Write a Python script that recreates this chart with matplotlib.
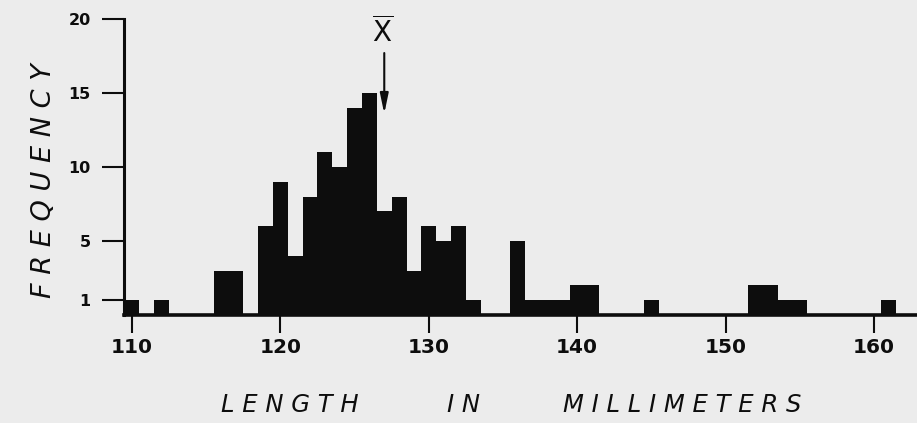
import matplotlib
matplotlib.use('Agg')
import matplotlib.pyplot as plt

# frequency of body length, 1 mm classes
lengths = [110, 112, 116, 117, 119, 120, 121, 122, 123, 124, 125, 126, 127,
           128, 129, 130, 131, 132, 133, 136, 137, 138, 139, 140, 141, 145,
           152, 153, 154, 155, 161]
counts = [1, 1, 3, 3, 6, 9, 4, 8, 11, 10, 14, 15, 7,
          8, 3, 6, 5, 6, 1, 5, 1, 1, 1, 2, 2, 1,
          2, 2, 1, 1, 1]
mean_mark = 127.0

x_ticks = [110, 120, 130, 140, 150, 160]
y_ticks = [1, 5, 10, 15, 20]

bg = '#ececec'
ink = '#0d0d0d'

fig = plt.figure(figsize=(9.17, 4.23), dpi=100, facecolor=bg)
ax = fig.add_axes([0.1352, 0.2553, 0.8648, 0.6998], facecolor=bg)

ax.bar(lengths, counts, width=1.0, color=ink, edgecolor='none', align='center')

ax.set_xlim(109.46, 162.9)
ax.set_ylim(0, 20)

for s in ['top', 'right']:
    ax.spines[s].set_visible(False)
ax.spines['left'].set_linewidth(2.2)
ax.spines['bottom'].set_linewidth(2.6)
ax.spines['left'].set_color(ink)
ax.spines['bottom'].set_color(ink)

ax.set_xticks(x_ticks)
ax.set_xticklabels([str(t) for t in x_ticks], fontsize=14.5, fontweight='bold', color=ink)
ax.set_yticks(y_ticks)
ax.set_yticklabels([str(t) for t in y_ticks], fontsize=11.5, fontweight='bold', color=ink)
ax.tick_params(axis='x', direction='out', length=13, width=1.5, pad=3.5, color=ink)
ax.tick_params(axis='y', direction='out', length=16, width=1.5, pad=8, color=ink)

# mean marker
ax.text(mean_mark - 0.1, 19.1, r'$\overline{\mathsf{X}}$', fontsize=20, color=ink,
        ha='center', va='center', clip_on=False)
ax.annotate('', xy=(mean_mark, 13.6), xytext=(mean_mark, 17.7),
            arrowprops=dict(arrowstyle='-|>,head_width=0.25,head_length=1.2',
                            color=ink, lw=1.5, shrinkA=0, shrinkB=0),
            annotation_clip=False)

# axis labels, spaced out like the original lettering
fig.text(0.316, 0.042, 'L E N G T H', fontsize=17.5, fontstyle='italic', color=ink,
         ha='center', va='center')
fig.text(0.505, 0.042, 'I N', fontsize=17.5, fontstyle='italic', color=ink,
         ha='center', va='center')
fig.text(0.744, 0.042, 'M I L L I M E T E R S', fontsize=17.5, fontstyle='italic', color=ink,
         ha='center', va='center')
fig.text(0.048, 0.574, 'F R E Q U E N C Y', fontsize=19.5, fontstyle='italic', color=ink,
         ha='center', va='center', rotation=90)

fig.savefig('out.png', dpi=100, facecolor=bg)
